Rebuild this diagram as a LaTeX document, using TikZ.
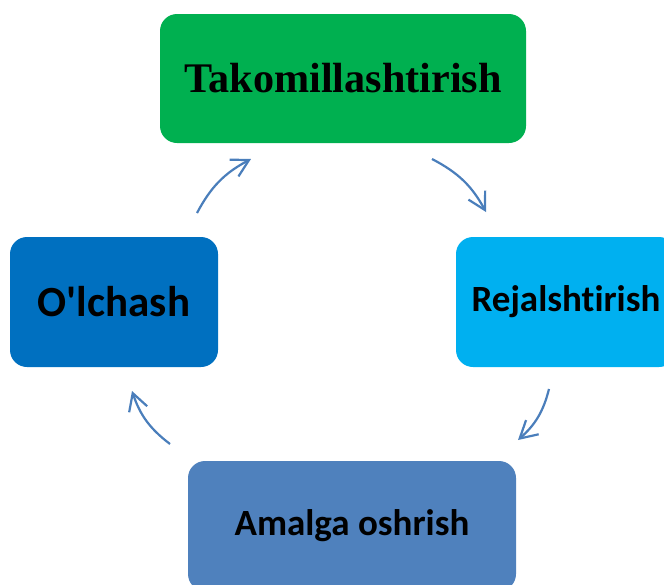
\documentclass[tikz,border=0pt]{standalone}
\usepackage{fontspec}
\setmainfont{Carlito}[Ligatures={NoCommon}]
\newfontfamily\timesfam{Liberation Serif}
\usetikzlibrary{arrows.meta}
\definecolor{stepgreen}{HTML}{00B050}
\definecolor{stepcyan}{HTML}{00B0F0}
\definecolor{stepblue}{HTML}{0070C0}
\definecolor{stepsteel}{HTML}{4F81BD}
\definecolor{cyclearrow}{HTML}{4A7EBB}
\tikzset{
  stagebox/.style={rounded corners=17pt, inner sep=0pt, text=black},
  cyclelink/.style={draw=cyclearrow, line width=2.2pt,
    -{Straight Barb[length=17pt,width=19pt,line width=2.2pt]}, bend left=17},
}
\begin{document}
\begin{tikzpicture}[x=1pt,y=-1pt]
  \useasboundingbox (0,0) rectangle (664,584);
  \clip (0,0) rectangle (664,584);

  % the four stages of the cycle
  \node[stagebox, fill=stepgreen, minimum width=366pt, minimum height=129pt]
    (improve) at (343,78.5) {\timesfam\bfseries\fontsize{42.2}{48}\selectfont Takomillashtirish};
  \node[stagebox, fill=stepcyan, minimum width=220pt, minimum height=130pt]
    (plan) at (566,302) {\bfseries\fontsize{37}{42}\selectfont Rejalshtirish};
  \node[stagebox, fill=stepsteel, minimum width=328pt, minimum height=130pt]
    (do) at (352,526) {\bfseries\fontsize{37}{42}\selectfont Amalga oshrish};
  \node[stagebox, fill=stepblue, minimum width=208pt, minimum height=130pt]
    (measure) at (114,302) {\bfseries\fontsize{43}{50}\selectfont O\textquotesingle lchash};

  % arrow end points between the stages
  \coordinate (a1s) at (432,159);
  \coordinate (a1e) at (486,212);
  \coordinate (a2s) at (549,389);
  \coordinate (a2e) at (518,440);
  \coordinate (a3s) at (170,444);
  \coordinate (a3e) at (132,391);
  \coordinate (a4s) at (197,213);
  \coordinate (a4e) at (251,159);

  \draw[cyclelink] (a1s) to (a1e);
  \draw[cyclelink] (a2s) to (a2e);
  \draw[cyclelink] (a3s) to (a3e);
  \draw[cyclelink] (a4s) to (a4e);
\end{tikzpicture}
\end{document}
